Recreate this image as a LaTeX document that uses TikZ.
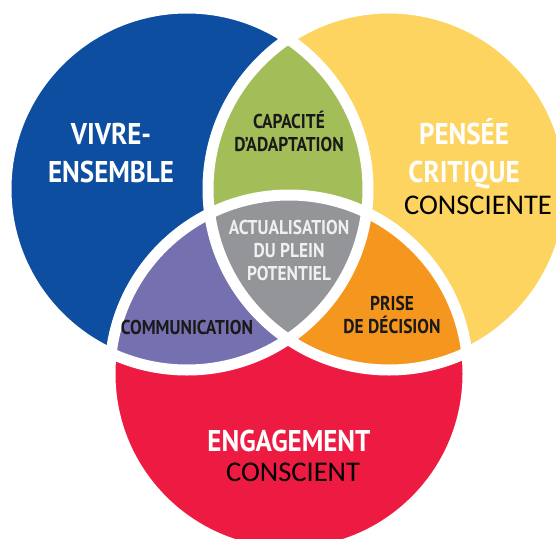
\documentclass[tikz,border=0pt]{standalone}
\usepackage{fontspec}
\setmainfont{Carlito}
\newfontfamily\condfont{PT Sans}[FakeStretch=0.9]
\newfontfamily\narrowfont{PT Sans}[FakeStretch=0.87]
\definecolor{vblue}{RGB}{13,78,160}
\definecolor{vyellow}{RGB}{253,212,95}
\definecolor{vred}{RGB}{237,27,65}
\definecolor{vgreen}{RGB}{163,190,88}
\definecolor{vpurple}{RGB}{117,112,176}
\definecolor{vorange}{RGB}{245,150,30}
\definecolor{vgray}{RGB}{148,149,153}
\tikzset{
	biglabel/.style={font=\condfont\bfseries\fontsize{30}{38}\selectfont,text=white,align=center,inner sep=0pt},
	smalllabel/.style={font=\narrowfont\bfseries\fontsize{20}{23}\selectfont,text=black!90,align=center,inner sep=0pt},
	plainlabel/.style={font=\fontsize{28.5}{32}\selectfont,text=black,inner sep=0pt}
}
\begin{document}
	\begin{tikzpicture}[x=1pt,y=-1pt]
		\useasboundingbox (0,0) rectangle (556,538);
		\clip (0,0) rectangle (556,538);
		\fill[vblue](187,189) circle(181pt);
		\fill[vyellow](389,189) circle(181pt);
		\fill[vred](289,374) circle(179pt);
		\begin{scope}
			\clip (187,189) circle(181pt);
			\fill[vgreen](389,189) circle(181pt);
			\fill[vpurple](289,374) circle(179pt);
		\end{scope}
		\begin{scope}
			\clip (389,189) circle(181pt);
			\fill[vorange](289,374) circle(179pt);
			\clip (187,189) circle(181pt);
			\fill[vgray](289,374) circle(179pt);
		\end{scope}
		\draw[white,line width=11pt](187,189) circle(181pt);
		\draw[white,line width=11pt](389,189) circle(181pt);
		\draw[white,line width=11pt](289,374) circle(179pt);

		\node[biglabel] (vivre) at (111,153) {VIVRE-\\ENSEMBLE};
		\node[biglabel] (pensee) at (464,154) {PENSÉE\\CRITIQUE};
		\node[plainlabel] (consciente) at (478,205) {CONSCIENTE};
		\node[biglabel] (engagement) at (289,441) {ENGAGEMENT};
		\node[plainlabel] (conscient) at (293,472) {CONSCIENT};
		\node[smalllabel] (capacite) at (289,131) {CAPACITÉ\\D’ADAPTATION};
		\node[smalllabel,text=white!94!black] (actualisation) at (289,250) {ACTUALISATION\\DU PLEIN\\POTENTIEL};
		\node[smalllabel] (prise) at (392,315) {PRISE\\DE DÉCISION};
		\node[smalllabel] (communication) at (187,327) {COMMUNICATION};
	\end{tikzpicture}
\end{document}
